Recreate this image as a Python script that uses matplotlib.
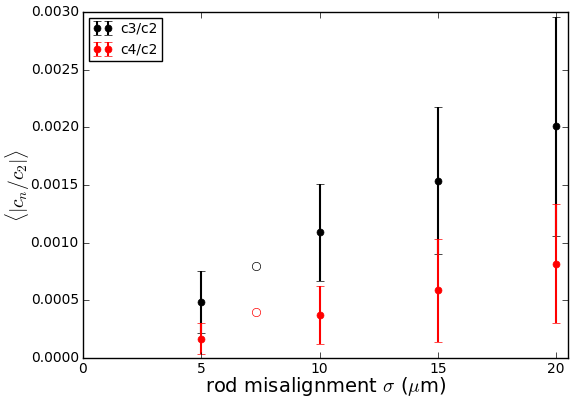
import matplotlib
matplotlib.use("Agg")
import matplotlib.pyplot as plt

plt.style.use('classic')

x = [5, 10, 15, 20]
c3 = [0.000486, 0.00109, 0.001537, 0.002009]
c3_err = [0.000265, 0.00042, 0.000638, 0.000948]
c4 = [0.000167, 0.000373, 0.000587, 0.000818]
c4_err = [0.000133, 0.00025, 0.000445, 0.000515]
x_open = [7.3]
c3_open = [0.0008]
c4_open = [0.0004]

fig = plt.figure(figsize=(5.7, 4.01), dpi=100, facecolor='white')
ax = fig.add_axes([0.1456, 0.107, 0.851, 0.863])

ax.errorbar(x, c3, yerr=c3_err, fmt='o', color='black', ecolor='black',
            markersize=5, elinewidth=1.5, capsize=3, label='c3/c2')
ax.errorbar(x, c4, yerr=c4_err, fmt='o', color='red', ecolor='red',
            markeredgecolor='red', markersize=5, elinewidth=1.5, capsize=3, label='c4/c2')
ax.plot(x_open, c3_open, 'o', markerfacecolor='none', markeredgecolor='black', markersize=6)
ax.plot(x_open, c4_open, 'o', markerfacecolor='none', markeredgecolor='red', markersize=6)

ax.set_xlim(0, 20.5)
ax.set_ylim(0, 0.003)
ax.set_xticks([0, 5, 10, 15, 20])
ax.set_yticks([0, 0.0005, 0.001, 0.0015, 0.002, 0.0025, 0.003])
ax.set_yticklabels(['0.0000', '0.0005', '0.0010', '0.0015', '0.0020', '0.0025', '0.0030'])
ax.tick_params(labelsize=10, pad=3)
ax.set_xlabel(r'rod misalignment $\sigma$ ($\mu$m)', fontsize=14)
ax.set_ylabel(r'$\langle|c_n/c_2|\rangle$', fontsize=14)
ax.xaxis.set_label_coords(0.5, -0.05)
ax.yaxis.set_label_coords(-0.106, 0.5)
ax.legend(loc='upper left', fontsize=10, numpoints=2, handlelength=1.4,
          handletextpad=0.6, borderpad=0.3, borderaxespad=0.4)

fig.savefig('out.png', dpi=100, facecolor='white')
